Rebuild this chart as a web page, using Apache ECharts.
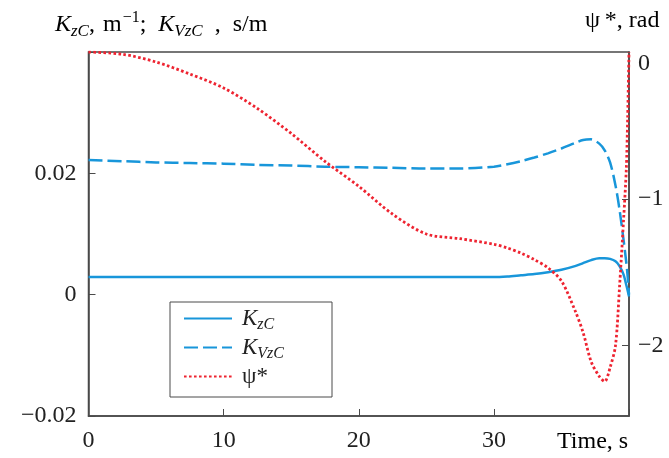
<!DOCTYPE html>
<html>
<head>
<meta charset="utf-8">
<script src="https://cdn.jsdelivr.net/npm/echarts@6/dist/echarts.min.js"></script>
<style>
  html, body { margin: 0; padding: 0; background: #fff; }
  #chart { width: 669px; height: 458px; }
</style>
</head>
<body>
<div id="chart"></div>
<script>
// time, s
var times = [0, 2.5, 5, 7.5, 10, 12.5, 15, 17.5, 20, 22.5, 25, 27.5, 30, 31, 32, 33, 34, 35, 36,
  36.6, 37.2, 37.8, 38.2, 38.6, 39, 39.3, 39.6, 39.8, 39.9, 40];
// K_zC, 1/m
var kzc = [0.0029, 0.0029, 0.0029, 0.0029, 0.0029, 0.0029, 0.0029, 0.0029, 0.0029, 0.0029, 0.0029, 0.0029, 0.0029,
  0.0030, 0.0032, 0.0034, 0.0037, 0.0041, 0.0047, 0.0052, 0.0057, 0.0060, 0.0060, 0.0059, 0.0055, 0.0047,
  0.0033, 0.0016, 0.0007, -0.0003];
// K_VzC, s/m
var kvzc = [0.0222, 0.0220, 0.0218, 0.0217, 0.0216, 0.0214, 0.0213, 0.0211, 0.0210, 0.0209, 0.0208, 0.0208,
  0.0211, 0.0215, 0.0220, 0.0226, 0.0233, 0.0241, 0.0250, 0.0255, 0.0256, 0.0249, 0.0238, 0.0218, 0.0180,
  0.0140, 0.0090, 0.0053, 0.0030, 0.0000];
// psi*, rad
var psi = [0, -0.015, -0.068, -0.15, -0.245, -0.385, -0.555, -0.745, -0.915, -1.105, -1.24, -1.272, -1.31,
  -1.335, -1.37, -1.415, -1.47, -1.56, -1.76, -1.91, -2.11, -2.21, -2.245, -2.15, -2.0, -1.6, -1.14,
  -0.8, -0.45, 0];

var xTicks = [0, 10, 20, 30];
var leftTicks = [-0.02, 0, 0.02];
var rightTicks = [-2, -1, 0];

var serif = 'Liberation Serif';
var blue = '#1896da';
var red = '#ee2431';
var axisCol = '#4a4a4a';
var ink = '#222';
var sp = '\u2002';

function pairs(vals) {
  return times.map(function(t, i) { return [t, vals[i]]; });
}
function minus(v) {
  return String(v).replace('-', '\u2212');
}

// title text: K with subscripts, m with superscript
var titleRich = {
  K: { fontFamily: serif, fontStyle: 'italic', fontSize: 24, color: ink, lineHeight: 30, verticalAlign: 'middle' },
  s: { fontFamily: serif, fontStyle: 'italic', fontSize: 17, color: ink, lineHeight: 13, verticalAlign: 'bottom' },
  sup: { fontFamily: serif, fontSize: 16, color: ink, lineHeight: 25, verticalAlign: 'top', padding: [0, 0, 0, 1] },
  n: { fontFamily: serif, fontSize: 24, color: ink, lineHeight: 30, verticalAlign: 'middle' }
};
var legendRich = {
  K: { fontFamily: serif, fontStyle: 'italic', fontSize: 23, color: ink, lineHeight: 28, verticalAlign: 'middle' },
  s: { fontFamily: serif, fontStyle: 'italic', fontSize: 16, color: ink, lineHeight: 13, verticalAlign: 'bottom' },
  n: { fontFamily: serif, fontSize: 23, color: ink, lineHeight: 28, verticalAlign: 'middle' }
};

var legendNames = {
  KzC: '{K|K}{s|zC}',
  KVzC: '{K|K}{s|VzC}',
  psi: '{n|\u03c8*}'
};

var chart = echarts.init(document.getElementById('chart'));
var option = {
  animation: false,
  grid: { left: 88.5, right: 40, top: 52, bottom: 42, show: true, borderColor: axisCol, borderWidth: 1.5, backgroundColor: 'transparent' },
  legend: {
    left: 170, top: 302, orient: 'vertical',
    padding: [5, 48, 9, 13],
    itemGap: 3.5, itemWidth: 48, itemHeight: 20,
    borderColor: axisCol, borderWidth: 1, borderRadius: 0,
    itemStyle: { opacity: 0 },
    data: ['KzC', 'KVzC', 'psi'],
    formatter: function(name) { return legendNames[name]; },
    textStyle: { rich: legendRich, padding: [0, 0, 0, 5] }
  },
  xAxis: {
    type: 'value', min: 0, max: 40, interval: 10,
    axisLine: { onZero: false, lineStyle: { color: axisCol, width: 1.5 } },
    axisTick: { inside: true, length: 7, lineStyle: { color: axisCol, width: 1 } },
    splitLine: { show: false },
    axisLabel: {
      margin: 13, fontFamily: serif, fontSize: 24, color: ink,
      customValues: xTicks
    }
  },
  yAxis: [{
    type: 'value', min: -0.02, max: 0.04, interval: 0.02,
    axisLine: { show: true, onZero: false, lineStyle: { color: axisCol, width: 1.5 } },
    axisTick: { show: true, inside: true, length: 7, lineStyle: { color: axisCol, width: 1 } },
    splitLine: { show: false },
    axisLabel: {
      margin: 12, fontFamily: serif, fontSize: 24, color: ink,
      customValues: leftTicks,
      formatter: function(v) { return minus(Math.round(v * 100) / 100); }
    }
  }, {
    type: 'value', min: -2.48, max: 0, position: 'right',
    axisLine: { show: true, onZero: false, lineStyle: { color: axisCol, width: 1.5 } },
    axisTick: { show: true, inside: true, length: 7, lineStyle: { color: axisCol, width: 1 }, customValues: [-2, -1] },
    splitLine: { show: false },
    axisLabel: {
      margin: 9, fontFamily: serif, fontSize: 24, color: ink,
      customValues: rightTicks,
      verticalAlignMaxLabel: 'top',
      formatter: function(v) { return minus(v); }
    }
  }],
  graphic: [{
    type: 'text', left: 55, top: 10,
    style: {
      text: '{K|K}{s|zC}{n|,\u2004m}{sup|\u22121}{n|;' + sp + '}{K|K}{s|VzC}{n|' + sp + ',' + sp + 's/m}',
      rich: titleRich
    }
  }, {
    type: 'text', left: 585, top: 9,
    style: { text: '{n|\u03c8\u2009*, rad}', rich: titleRich }
  }, {
    type: 'text', left: 557, top: 430,
    style: { text: '{n|Time, s}', rich: titleRich }
  }],
  series: [{
    name: 'KzC', type: 'line', yAxisIndex: 0, data: pairs(kzc),
    symbol: 'none', smooth: 0.3,
    lineStyle: { color: blue, width: 2.5 }, itemStyle: { color: blue }
  }, {
    name: 'KVzC', type: 'line', yAxisIndex: 0, data: pairs(kvzc),
    symbol: 'none', smooth: 0.3,
    lineStyle: { color: blue, width: 2.5, type: [14, 5] }, itemStyle: { color: blue }
  }, {
    name: 'psi', type: 'line', yAxisIndex: 1, data: pairs(psi),
    symbol: 'none', smooth: 0.3,
    lineStyle: { color: red, width: 2.8, type: [2.6, 2.4] }, itemStyle: { color: red }
  }]
};
chart.setOption(option);
</script>
</body>
</html>
